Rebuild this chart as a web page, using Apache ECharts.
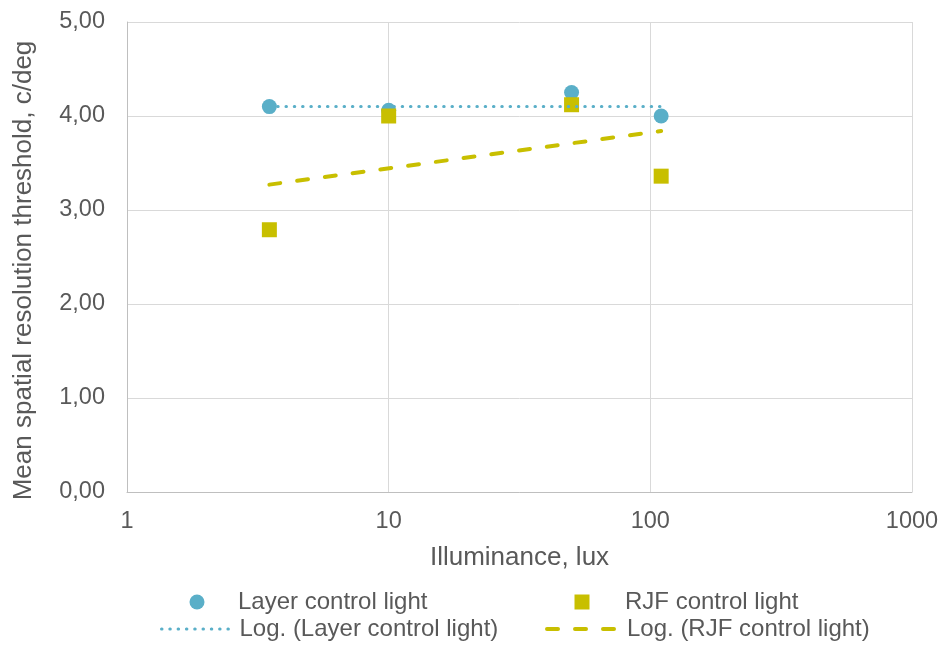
<!DOCTYPE html>
<html>
<head>
<meta charset="utf-8">
<script src="https://cdn.jsdelivr.net/npm/echarts@6/dist/echarts.min.js"></script>
<style>html,body{margin:0;padding:0;background:#fff}#c{width:944px;height:645px}</style>
</head>
<body>
<div id="c"></div>
<script>
const illuminance = [3.5, 10, 50, 110];
const layerValues = [4.10, 4.06, 4.25, 4.00];
const rjfValues = [2.79, 4.00, 4.12, 3.36];
const trendX = [3.5, 110];
const layerTrend = [4.10, 4.10];
const rjfTrend = [3.27, 3.84];
const xTicks = [1, 10, 100, 1000];
const yTicks = [0, 1, 2, 3, 4, 5];

const names = ['Layer control light', 'RJF control light', 'Log. (Layer control light)', 'Log. (RJF control light)'];
const blue = '#5aafc8', olive = '#c8bf00';
const font = '"Liberation Sans", Arial, sans-serif';
const grey = '#595959';
const pair = (xs, ys) => xs.map((x, i) => [x, ys[i]]);

const layerTrendStyle = {color: blue, width: 3, type: [0.5, 7.8], cap: 'round'};
const rjfTrendStyle = {color: olive, width: 4, type: [11, 17], cap: 'round'};

const legendText = (padLeft) => ({color: grey, fontSize: 24, fontFamily: font, padding: [0, 0, 0, padLeft]});
const legendBase = {padding: 0, itemHeight: 15, selectedMode: false};

const chart = echarts.init(document.getElementById('c'));
chart.setOption({
  animation: false,
  textStyle: {fontFamily: font},
  grid: {left: 127, right: 32, top: 22, bottom: 153},
  xAxis: {
    type: 'log', logBase: 10, min: xTicks[0], max: xTicks[xTicks.length - 1],
    name: 'Illuminance, lux', nameLocation: 'middle', nameGap: 53,
    nameTextStyle: {color: grey, fontSize: 26, fontFamily: font},
    axisLine: {show: true, lineStyle: {color: '#bfbfbf', width: 1}},
    axisTick: {show: false},
    axisLabel: {color: grey, fontSize: 23.5, margin: 18, fontFamily: font, formatter: v => String(v)},
    splitLine: {show: true, lineStyle: {color: '#d9d9d9', width: 1}}
  },
  yAxis: {
    type: 'value', min: yTicks[0], max: yTicks[yTicks.length - 1], interval: 1,
    name: 'Mean spatial resolution threshold, c/deg', nameLocation: 'middle', nameGap: 90,
    nameTextStyle: {color: grey, fontSize: 26, fontFamily: font, padding: [0, 27, 0, 0]},
    axisLine: {show: true, lineStyle: {color: '#bfbfbf', width: 1}},
    axisTick: {show: false},
    axisLabel: {color: grey, fontSize: 23.5, margin: 22, fontFamily: font, formatter: v => v.toFixed(2).replace('.', ',')},
    splitLine: {show: true, lineStyle: {color: '#d9d9d9', width: 1}}
  },
  legend: [
    Object.assign({}, legendBase, {data: [{name: names[0], icon: 'circle'}], left: 189.5, top: 590, itemWidth: 15, textStyle: legendText(28.5)}),
    Object.assign({}, legendBase, {data: [{name: names[1], icon: 'rect'}], left: 574.5, top: 590, itemWidth: 15, textStyle: legendText(30.5)}),
    Object.assign({}, legendBase, {data: [names[2]], left: 160, top: 617, itemWidth: 73, itemStyle: {opacity: 0}, lineStyle: Object.assign({}, layerTrendStyle), textStyle: legendText(0)}),
    Object.assign({}, legendBase, {data: [names[3]], left: 545, top: 617, itemWidth: 75, itemStyle: {opacity: 0}, lineStyle: Object.assign({}, rjfTrendStyle), textStyle: legendText(0)})
  ],
  series: [
    {name: names[0], type: 'scatter', symbol: 'circle', symbolSize: 15, itemStyle: {color: blue, opacity: 1}, data: pair(illuminance, layerValues), z: 2},
    {name: names[1], type: 'scatter', symbol: 'rect', symbolSize: 15, itemStyle: {color: olive, opacity: 1}, data: pair(illuminance, rjfValues), z: 3},
    {name: names[2], type: 'line', symbol: 'none', itemStyle: {color: blue}, lineStyle: layerTrendStyle, data: pair(trendX, layerTrend), z: 4},
    {name: names[3], type: 'line', symbol: 'none', itemStyle: {color: olive}, lineStyle: rjfTrendStyle, data: pair(trendX, rjfTrend), z: 4}
  ]
});
</script>
</body>
</html>
